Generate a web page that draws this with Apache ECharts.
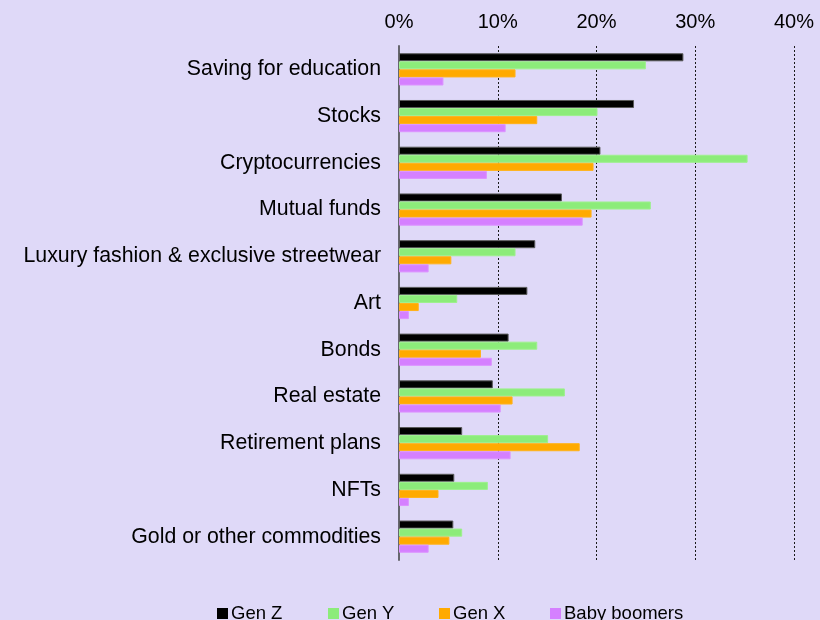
<!DOCTYPE html>
<html>
<head>
<meta charset="utf-8">
<script src="https://cdn.jsdelivr.net/npm/echarts@6/dist/echarts.min.js"></script>
<style>
  html, body { margin: 0; padding: 0; }
  #chart { width: 820px; height: 620px; }
</style>
</head>
<body>
<div id="chart"></div>
<script>
// Share of each generation investing in each asset type (%)
const categories = [
  'Saving for education', 'Stocks', 'Cryptocurrencies', 'Mutual funds',
  'Luxury fashion & exclusive streetwear', 'Art', 'Bonds', 'Real estate',
  'Retirement plans', 'NFTs', 'Gold or other commodities'
];
const genZ        = [28.8, 23.8, 20.4, 16.5, 13.8, 13.0, 11.1,  9.5,  6.4, 5.6, 5.5];
const genY        = [25.0, 20.1, 35.3, 25.5, 11.8,  5.9, 14.0, 16.8, 15.1, 9.0, 6.4];
const genX        = [11.8, 14.0, 19.7, 19.5,  5.3,  2.0,  8.3, 11.5, 18.3, 4.0, 5.1];
const babyBoomers = [ 4.5, 10.8,  8.9, 18.6,  3.0,  1.0,  9.4, 10.3, 11.3, 1.0, 3.0];
const axisTicks = [0, 10, 20, 30, 40];

const seriesDefs = [
  { name: 'Gen Z',        data: genZ,        color: '#000000', border: '#5a5a5a' },
  { name: 'Gen Y',        data: genY,        color: '#8cec7a', border: '#9ef08e' },
  { name: 'Gen X',        data: genX,        color: '#ffaa00', border: '#ffb21a' },
  { name: 'Baby boomers', data: babyBoomers, color: '#d580ff', border: '#dc92ff' }
];

const font = '"Liberation Sans", Arial, sans-serif';
const chart = echarts.init(document.getElementById('chart'));

// One legend block per series, laid out on evenly spaced slots
const legendStart = 212;
const legendStep = 111;
const legends = seriesDefs.map((s, i) => ({
  left: legendStart + i * legendStep,
  top: 599,
  itemWidth: 11,
  itemHeight: 11,
  itemGap: 0,
  icon: 'rect',
  itemStyle: { borderWidth: 0 },
  selectedMode: false,
  textStyle: { fontSize: 18.5, color: '#000', fontFamily: font, padding: [0, 0, 0, -2] },
  data: [s.name]
}));

chart.setOption({
  backgroundColor: '#dfd9f8',
  animation: false,
  textStyle: { fontFamily: font },
  grid: { left: 399, right: 26, top: 46, bottom: 60, containLabel: false },
  legend: legends,
  xAxis: {
    type: 'value',
    position: 'top',
    min: axisTicks[0],
    max: axisTicks[axisTicks.length - 1],
    interval: axisTicks[1] - axisTicks[0],
    axisLine: { show: false },
    axisTick: { show: false },
    axisLabel: {
      formatter: '{value}%',
      fontSize: 20,
      color: '#000',
      margin: 14,
      fontFamily: font
    },
    splitLine: {
      show: true,
      lineStyle: { color: '#1a1a1a', width: 1, type: [2, 2] }
    }
  },
  yAxis: {
    type: 'category',
    inverse: true,
    data: categories,
    axisLine: { show: true, lineStyle: { color: '#66666e', width: 2 } },
    axisTick: { show: false },
    axisLabel: { fontSize: 21.3, color: '#000', margin: 18, fontFamily: font }
  },
  series: seriesDefs.map(s => ({
    name: s.name,
    type: 'bar',
    data: s.data,
    barGap: '0%',
    barCategoryGap: '31%',
    itemStyle: { color: s.color, borderColor: s.border, borderWidth: 1 }
  }))
});
</script>
</body>
</html>
